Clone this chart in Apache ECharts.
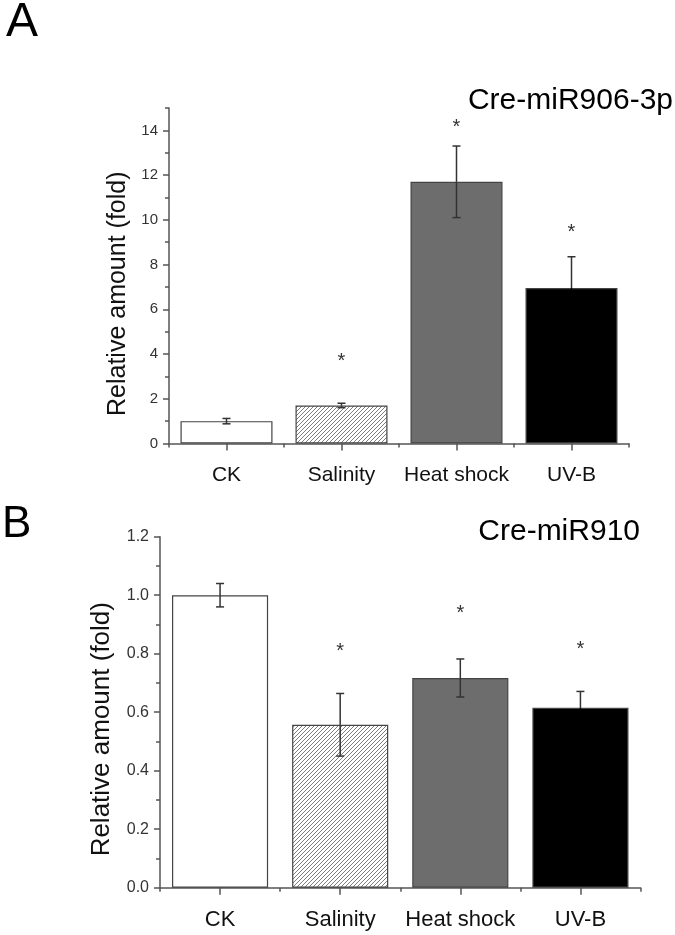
<!DOCTYPE html>
<html><head><meta charset="utf-8">
<script src="https://cdn.jsdelivr.net/npm/echarts@6/dist/echarts.min.js"></script>
<style>html,body{margin:0;padding:0;background:#fff}#c{width:675px;height:935px}</style>
</head><body><div id="c"></div>
<script>
const categories = ['CK', 'Salinity', 'Heat shock', 'UV-B'];

const valuesA = [1.0, 1.7, 11.7, 6.95];
const errorsA = [0.12, 0.1, 1.6, 1.4];
const starsA = [null, 3.9, 14.35, 9.65];
const yTicksA = [0, 2, 4, 6, 8, 10, 12, 14];
const yMinorA = [1, 3, 5, 7, 9, 11, 13, 15];

const valuesB = [1.0, 0.557, 0.717, 0.615];
const errorsB = [0.04, 0.107, 0.065, 0.056];
const starsB = [null, 0.826, 0.955, 0.833];
const yTicksB = [0, 0.2, 0.4, 0.6, 0.8, 1.0, 1.2];
const yMinorB = [0.1, 0.3, 0.5, 0.7, 0.9, 1.1];

const FONT = 'Liberation Sans, Arial, sans-serif';

function hatch() {
  const c = document.createElement('canvas');
  c.width = 4; c.height = 4;
  const g = c.getContext('2d');
  g.fillStyle = '#ffffff'; g.fillRect(0, 0, 4, 4);
  g.strokeStyle = '#707070'; g.lineWidth = 0.9;
  g.beginPath(); g.moveTo(-1, 5); g.lineTo(5, -1); g.stroke();
  g.beginPath(); g.moveTo(-1, 1); g.lineTo(1, -1); g.stroke();
  g.beginPath(); g.moveTo(3, 5); g.lineTo(5, 3); g.stroke();
  return c;
}
const hatchColor = { image: hatch(), repeat: 'repeat' };
const fills = ['#ffffff', hatchColor, '#6d6d6d', '#000000'];
const lowerErrColors = ['#333', '#333', '#333', '#000'];

const axisColor = '#555';

function xAxes(gi, fs) {
  return [
    { gridIndex: gi, type: 'category', data: categories, position: 'bottom',
      axisLine: { show: true, lineStyle: { color: axisColor, width: 1.5 } },
      axisTick: { show: true, alignWithLabel: true, length: 7, lineStyle: { color: axisColor, width: 1.5 } },
      axisLabel: { interval: 0, fontSize: fs, color: '#111', fontFamily: FONT, margin: 21 },
      splitLine: { show: false } },
    { gridIndex: gi, type: 'category', data: categories, position: 'bottom',
      axisLine: { show: false },
      axisTick: { show: true, alignWithLabel: false, length: 4, lineStyle: { color: axisColor, width: 1.5 } },
      axisLabel: { show: false }, splitLine: { show: false } }
  ];
}

function yAxes(gi, max, major, minor, fs, nameFs, nameGap, shift, fmt) {
  return [
    { gridIndex: gi, type: 'value', min: 0, max: max, position: 'left',
      name: 'Relative amount (fold)', nameLocation: 'middle', nameGap: nameGap,
      nameTextStyle: { fontSize: nameFs, color: '#111', fontFamily: FONT, padding: [0, shift, 0, 0] },
      axisLine: { show: true, lineStyle: { color: axisColor, width: 1.5 } },
      axisTick: { show: true, length: 6, customValues: major, lineStyle: { color: axisColor, width: 1.5 } },
      axisLabel: { customValues: major, fontSize: fs, color: '#333', fontFamily: FONT, margin: 11, formatter: fmt },
      splitLine: { show: false } },
    { gridIndex: gi, type: 'value', min: 0, max: max, position: 'left',
      axisLine: { show: false },
      axisTick: { show: true, length: 4, customValues: minor, lineStyle: { color: axisColor, width: 1.5 } },
      axisLabel: { show: false }, splitLine: { show: false } }
  ];
}

function barSeries(vals, xi, yi) {
  return { type: 'bar', xAxisIndex: xi, yAxisIndex: yi, barWidth: '80%',
    data: vals.map((v, i) => ({ value: v, itemStyle: { color: fills[i], borderColor: '#444', borderWidth: 1.2 } })) };
}

function errSeries(vals, errs, xi, yi) {
  return { type: 'custom', xAxisIndex: xi, yAxisIndex: yi, z: 10,
    data: vals.map((v, i) => [i, v - errs[i], v, v + errs[i]]),
    renderItem: function (params, api) {
      const x = api.value(0);
      const lo = api.coord([x, api.value(1)]);
      const mid = api.coord([x, api.value(2)]);
      const hi = api.coord([x, api.value(3)]);
      const w = 4;
      const st = { stroke: '#333', lineWidth: 1.5 };
      const stLo = { stroke: lowerErrColors[params.dataIndex], lineWidth: 1.5 };
      return { type: 'group', children: [
        { type: 'line', shape: { x1: mid[0], y1: mid[1], x2: hi[0], y2: hi[1] }, style: st },
        { type: 'line', shape: { x1: lo[0], y1: lo[1], x2: mid[0], y2: mid[1] }, style: stLo },
        { type: 'line', shape: { x1: lo[0] - w, y1: lo[1], x2: lo[0] + w, y2: lo[1] }, style: stLo },
        { type: 'line', shape: { x1: hi[0] - w, y1: hi[1], x2: hi[0] + w, y2: hi[1] }, style: st }
      ] };
    } };
}

function starSeries(stars, xi, yi) {
  const d = [];
  stars.forEach((s, i) => { if (s !== null) d.push([i, s]); });
  return { type: 'custom', xAxisIndex: xi, yAxisIndex: yi, z: 10, data: d,
    renderItem: function (params, api) {
      const p = api.coord([api.value(0), api.value(1)]);
      return { type: 'text', x: p[0], y: p[1] + 5,
        style: { text: '*', fontSize: 20, fill: '#333', fontFamily: FONT, align: 'center', verticalAlign: 'middle' } };
    } };
}

const chart = echarts.init(document.getElementById('c'), null, { renderer: 'canvas' });
chart.setOption({
  animation: false,
  backgroundColor: '#ffffff',
  textStyle: { fontFamily: FONT },
  title: [
    { text: 'A', left: 6, top: -1, padding: 0, textStyle: { fontSize: 48, fontWeight: 'normal', color: '#000', fontFamily: FONT } },
    { text: 'Cre-miR906-3p', right: 2, top: 86, padding: 0, textStyle: { fontSize: 30, fontWeight: 'normal', color: '#000', fontFamily: FONT } },
    { text: 'B', left: 2, top: 503, padding: 0, textStyle: { fontSize: 44, fontWeight: 'normal', color: '#000', fontFamily: FONT } },
    { text: 'Cre-miR910', right: 35, top: 517, padding: 0, textStyle: { fontSize: 30, fontWeight: 'normal', color: '#000', fontFamily: FONT } }
  ],
  grid: [
    { left: 169, right: 46, top: 108, bottom: 491.5, containLabel: false },
    { left: 160, right: 34.5, top: 536.7, bottom: 47.3, containLabel: false }
  ],
  xAxis: [].concat(xAxes(0, 21), xAxes(1, 22)),
  yAxis: [].concat(
    yAxes(0, 15, yTicksA, yMinorA, 15, 25, 37, 36, v => String(v)),
    yAxes(1, 1.2, yTicksB, yMinorB, 16, 26, 45, 34, v => v.toFixed(1))
  ),
  series: [
    barSeries(valuesA, 0, 0),
    errSeries(valuesA, errorsA, 0, 0),
    starSeries(starsA, 0, 0),
    barSeries(valuesB, 2, 2),
    errSeries(valuesB, errorsB, 2, 2),
    starSeries(starsB, 2, 2)
  ]
});
</script>
</body></html>
